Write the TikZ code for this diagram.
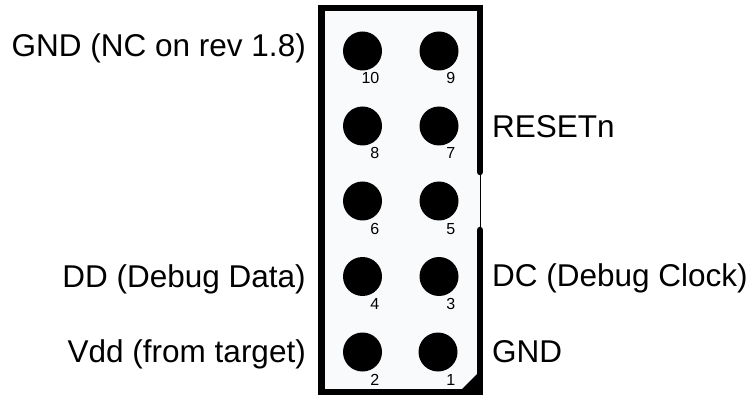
\documentclass[tikz,border=0pt]{standalone}
\usepackage{fontspec}
\setmainfont{Liberation Sans}
\definecolor{bodyfill}{RGB}{249,250,252}
\tikzset{
  pin/.style={circle, fill=black, minimum size=39pt, inner sep=0pt},
  pinnum/.style={anchor=base east, inner sep=0pt, font=\fontsize{16}{18}\selectfont},
  lbl/.style={inner sep=0pt, font=\fontsize{31.5}{36}\selectfont},
  outline/.style={line width=6.5pt, line cap=round, line join=miter},
}
\begin{document}
\begin{tikzpicture}[x=1pt,y=-1pt]
\useasboundingbox (0,0) rectangle (754,395);
% body
\fill[bodyfill] (321.5,8) rectangle (480,392);
\fill[black] (459,392) -- (480,392) -- (480,371) -- cycle;
\draw[line width=1pt] (480,172) -- (480,230);
\draw[outline] (480,172) -- (480,8) -- (321.5,8) -- (321.5,392) -- (480,392) -- (480,230);
% pins
\foreach \n/\x/\y in {10/362.5/51, 9/439/51, 8/362.5/126, 7/439/126, 6/362.5/201, 5/439/201, 4/362.5/276.5, 3/439/276.5, 2/362.5/352, 1/438/352}{
  \node[pin] (p\n) at (\x,\y) {};
}
\foreach \n/\x/\y in {10/379.5/51, 9/455.5/51, 8/379.5/126, 7/455.5/126, 6/379.5/201, 5/455.5/201, 4/379.5/276.5, 3/455.5/276.5, 2/379.5/352, 1/455.5/352}{
  \node[pinnum] (n\n) at (\x,\y+33) {\n};
}
% labels
\node[lbl, anchor=base east] (l10) at (306,56.5) {GND (NC on rev 1.8)};
\node[lbl, anchor=base west] (l7) at (492,137.5) {RESETn};
\node[lbl, anchor=base east] (l4) at (306,287.5) {DD (Debug Data)};
\node[lbl, anchor=base west] (l3) at (492,286) {DC (Debug Clock)};
\node[lbl, anchor=base east] (l2) at (306,362.5) {Vdd (from target)};
\node[lbl, anchor=base west] (l1) at (492,362.5) {GND};
\end{tikzpicture}
\end{document}
